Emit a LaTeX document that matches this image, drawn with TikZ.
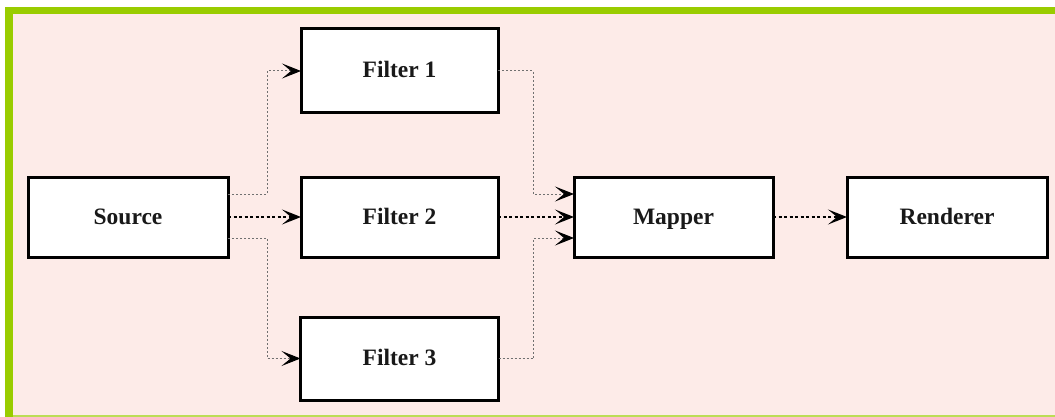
\documentclass[tikz,border=0pt]{standalone}
\usepackage{fontspec}
\setmainfont{Liberation Serif}
\usetikzlibrary{arrows.meta}
\definecolor{frame}{HTML}{99CC00}
\definecolor{frameb}{HTML}{BCDD55}
\definecolor{paper}{HTML}{FDEBE8}
\definecolor{branch}{HTML}{707070}
\begin{document}
\begin{tikzpicture}[x=1pt,y=-1pt,
  block/.style={draw=black,line width=3pt,fill=white,inner sep=0pt,outer sep=0pt,
    font=\fontsize{23.5}{23.5}\selectfont\bfseries,text=black!90,
    text height=16pt,text depth=2pt},
  tip/.style={-{Stealth[length=19pt,width=15pt,inset=9pt,color=black]}},
  mainflow/.style={tip,draw=black,line width=1.5pt,dash pattern=on 3pt off 2.5pt},
  sideflow/.style={tip,draw=branch,line width=1pt,dash pattern=on 2pt off 2pt}]
  % frame and background
  \fill[white] (0,0) rectangle (1055,417);
  \fill[frame] (5,7) rectangle (1055,417);
  \fill[paper] (13,14) rectangle (1055,415);
  \fill[frameb] (13,415) rectangle (1055,417);
  \useasboundingbox (0,0) rectangle (1055,417);
  % blocks
  \node[block,minimum width=197pt,minimum height=84pt] (f1) at (399.5,71) {Filter 1};
  \node[block,minimum width=200pt,minimum height=80pt] (src) at (128,217) {Source};
  \node[block,minimum width=197pt,minimum height=80pt] (f2) at (399.5,217) {Filter 2};
  \node[block,minimum width=198pt,minimum height=83pt] (f3) at (399.5,358.5) {Filter 3};
  \node[block,minimum width=199pt,minimum height=80pt] (map) at (673.5,217) {Mapper};
  \node[block,minimum width=200pt,minimum height=80pt] (ren) at (947,217) {Renderer};
  % connections
  \draw[sideflow] ([yshift=23pt]src.east) -- ++(39,0) |- (f1.west);
  \draw[mainflow] (src.east) -- (f2.west);
  \draw[sideflow] ([yshift=-21pt]src.east) -- ++(39,0) |- (f3.west);
  \draw[sideflow] (f1.east) -- ++(35,0) |- ([yshift=23pt]map.west);
  \draw[mainflow] (f2.east) -- (map.west);
  \draw[sideflow] (f3.east) -- ++(35,0) |- ([yshift=-21pt]map.west);
  \draw[mainflow] (map.east) -- (ren.west);
\end{tikzpicture}
\end{document}
